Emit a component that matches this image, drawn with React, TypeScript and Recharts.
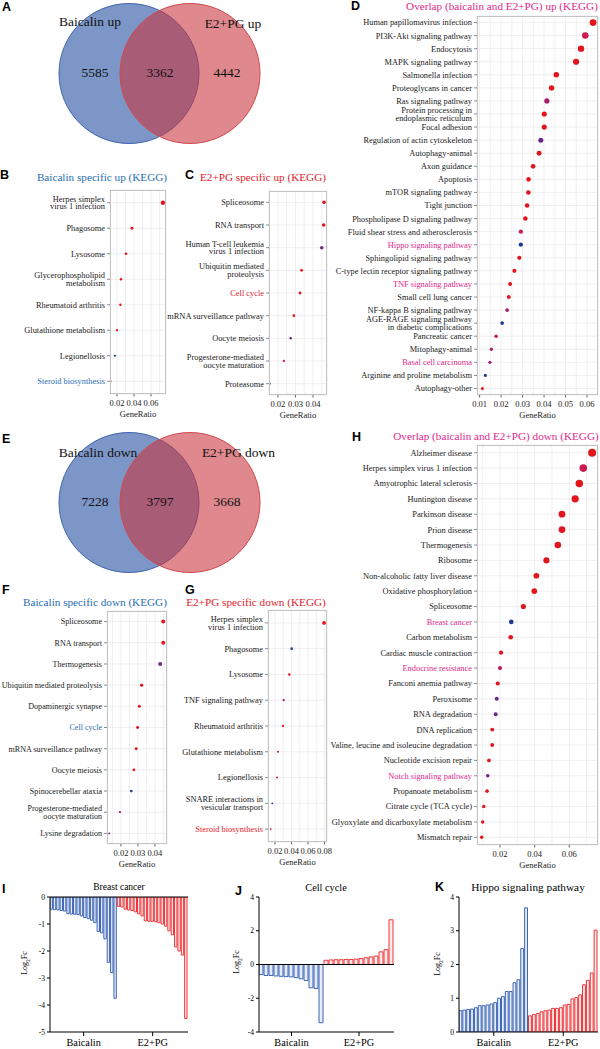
import React from 'react';
import {
    ScatterChart,
    Scatter,
    BarChart,
    Bar,
    Cell,
    XAxis,
    YAxis,
    CartesianGrid,
    ReferenceLine,
} from 'recharts';

const SERIF = '"Liberation Serif", "Times New Roman", serif';
const SANS = '"Liberation Sans", Arial, sans-serif';

// colour scale of p.adjust: red (low) -> navy (high)
const LEVEL_COLORS = ['#e3151c', '#c91b4e', '#a3206f', '#6e2689', '#1d3b90'];
const BLUE = '#3d65b8';
const RED = '#ee3539';
const MAGENTA = '#e0288c';

// ---- Venn counts ----
const vennUpSets = ['Baicalin up', 'E2+PG up'];
const vennUpCounts = [5585, 3362, 4442];
const vennDownSets = ['Baicalin down', 'E2+PG down'];
const vennDownCounts = [7228, 3797, 3668];

// ---- B: Baicalin specific up ----
const bTerms = [
    'Herpes simplex\nvirus 1 infection',
    'Phagosome',
    'Lysosome',
    'Glycerophospholipid\nmetabolism',
    'Rheumatoid arthritis',
    'Glutathione metabolism',
    'Legionellosis',
    'Steroid biosynthesis',
];
const bRatio = [0.074, 0.0376, 0.0306, 0.0247, 0.024, 0.02, 0.0176, 0.0125];
const bLevel = [0, 0, 0, 0, 0, 0, 4, 0];

// ---- C: E2+PG specific up ----
const cTerms = [
    'Spliceosome',
    'RNA transport',
    'Human T-cell leukemia\nvirus 1 infection',
    'Ubiquitin mediated\nproteolysis',
    'Cell cycle',
    'mRNA surveillance pathway',
    'Oocyte meiosis',
    'Progesterone-mediated\noocyte maturation',
    'Proteasome',
];
const cRatio = [0.0463, 0.0461, 0.045, 0.0335, 0.0326, 0.0291, 0.0273, 0.0234, 0.0154];
const cLevel = [0, 0, 3, 0, 0, 0, 3, 1, 4];

// ---- D: overlap up ----
const dTerms = [
    'Human papillomavirus infection',
    'PI3K-Akt signaling pathway',
    'Endocytosis',
    'MAPK signaling pathway',
    'Salmonella infection',
    'Proteoglycans in cancer',
    'Ras signaling pathway',
    'Protein processing in\nendoplasmic reticulum',
    'Focal adhesion',
    'Regulation of actin cytoskeleton',
    'Autophagy-animal',
    'Axon guidance',
    'Apoptosis',
    'mTOR signaling pathway',
    'Tight junction',
    'Phospholipase D signaling pathway',
    'Fluid shear stress and atherosclerosis',
    'Hippo signaling pathway',
    'Sphingolipid signaling pathway',
    'C-type lectin receptor signaling pathway',
    'TNF signaling pathway',
    'Small cell lung cancer',
    'NF-kappa B signaling pathway',
    'AGE-RAGE signaling pathway\nin diabetic complications',
    'Pancreatic cancer',
    'Mitophagy-animal',
    'Basal cell carcinoma',
    'Arginine and proline metabolism',
    'Autophagy-other',
];
const dRatio = [
    0.0628, 0.0592, 0.0572, 0.0549, 0.0457, 0.0435, 0.0413, 0.0401, 0.0401, 0.0385,
    0.0377, 0.0349, 0.0328, 0.0327, 0.0321, 0.0313, 0.0292, 0.0292, 0.0285, 0.0262,
    0.0242, 0.0236, 0.0228, 0.0205, 0.0177, 0.0155, 0.0148, 0.0127, 0.0113,
];
const dLevel = [0, 1, 0, 0, 0, 0, 2, 0, 0, 3, 0, 0, 0, 0, 0, 0, 1, 4, 0, 0, 0, 0, 2, 4, 1, 2, 2, 4, 0];

// ---- F: Baicalin specific down ----
const fTerms = [
    'Spliceosome',
    'RNA transport',
    'Thermogenesis',
    'Ubiquitin mediated proteolysis',
    'Dopaminergic synapse',
    'Cell cycle',
    'mRNA surveillance pathway',
    'Oocyte meiosis',
    'Spinocerebellar ataxia',
    'Progesterone-mediated\noocyte maturation',
    'Lysine degradation',
];
const fRatio = [0.0449, 0.0449, 0.0431, 0.0322, 0.0308, 0.0298, 0.029, 0.0276, 0.0261, 0.0194, 0.0131];
const fLevel = [0, 0, 3, 0, 0, 0, 0, 0, 4, 2, 3];

// ---- G: E2+PG specific down ----
const gTerms = [
    'Herpes simplex\nvirus 1 infection',
    'Phagosome',
    'Lysosome',
    'TNF signaling pathway',
    'Rheumatoid arthritis',
    'Glutathione metabolism',
    'Legionellosis',
    'SNARE interactions in\nvesicular transport',
    'Steroid biosynthesis',
];
const gRatio = [0.0794, 0.0402, 0.0373, 0.0305, 0.0297, 0.0236, 0.0224, 0.0167, 0.0148];
const gLevel = [0, 4, 0, 2, 0, 2, 1, 4, 1];

// ---- H: overlap down ----
const hTerms = [
    'Alzheimer disease',
    'Herpes simplex virus 1 infection',
    'Amyotrophic lateral sclerosis',
    'Huntington disease',
    'Parkinson disease',
    'Prion disease',
    'Thermogenesis',
    'Ribosome',
    'Non-alcoholic fatty liver disease',
    'Oxidative phosphorylation',
    'Spliceosome',
    'Breast cancer',
    'Carbon metabolism',
    'Cardiac muscle contraction',
    'Endocrine resistance',
    'Fanconi anemia pathway',
    'Peroxisome',
    'RNA degradation',
    'DNA replication',
    'Valine, leucine and isoleucine degradation',
    'Nucleotide excision repair',
    'Notch signaling pathway',
    'Propanoate metabolism',
    'Citrate cycle (TCA cycle)',
    'Glyoxylate and dicarboxylate metabolism',
    'Mismatch repair',
];
const hRatio = [
    0.0732, 0.0681, 0.0658, 0.0634, 0.0558, 0.0558, 0.0534, 0.0468, 0.041, 0.0398,
    0.0335, 0.0265, 0.0262, 0.0206, 0.02, 0.0187, 0.0181, 0.0175, 0.0155, 0.0155,
    0.0136, 0.0129, 0.0125, 0.0106, 0.01, 0.0094,
];
const hLevel = [0, 1, 0, 0, 0, 0, 0, 0, 0, 0, 0, 4, 0, 0, 1, 0, 3, 3, 0, 0, 0, 3, 0, 0, 0, 0];

// ---- I/J/K: log2 fold change per gene ----
const iBaicalin = [
    -0.45, -0.47, -0.48, -0.5, -0.52, -0.62, -0.63, -0.64, -0.65, -0.7,
    -0.76, -0.8, -0.86, -0.95, -1.28, -1.33, -1.55, -2.42, -2.8, -3.75,
];
const iE2PG = [
    -0.35, -0.37, -0.45, -0.48, -0.5, -0.55, -0.62, -0.7, -0.88, -0.9, -0.9,
    -0.92, -0.95, -1.0, -1.08, -1.25, -1.4, -1.85, -2.0, -2.15, -4.5,
];
const jBaicalin = [-0.6, -0.65, -0.65, -0.68, -0.7, -0.72, -0.73, -0.78, -0.85, -0.95, -1.38, -1.42, -3.45];
const jE2PG = [0.25, 0.27, 0.28, 0.28, 0.3, 0.3, 0.32, 0.35, 0.4, 0.45, 0.5, 0.75, 0.88, 2.65];
const kBaicalin = [0.63, 0.65, 0.67, 0.68, 0.72, 0.78, 0.78, 0.8, 0.83, 0.87, 1.0, 1.05, 1.2, 1.2, 1.46, 1.55, 2.47, 3.68];
const kE2PG = [0.48, 0.52, 0.55, 0.6, 0.63, 0.65, 0.7, 0.7, 0.72, 0.8, 0.82, 0.98, 1.02, 1.1, 1.4, 1.53, 1.75, 3.02];

// ---- small helpers ----
const Letter = ({ x, y, children }: any) => (
    <div style={{ position: 'absolute', left: x, top: y - 1.6, fontFamily: SANS, fontWeight: 700, fontSize: 12.5, lineHeight: 1 }}>
        {children}
    </div>
);

const Title = ({ x, y, color = '#000', size = 11.2, children }: any) => (
    <div
        style={{
            position: 'absolute', left: x - 150, top: y - 5.5, width: 300, textAlign: 'center',
            fontSize: size, lineHeight: '11px', color, fontFamily: SERIF, whiteSpace: 'nowrap',
        }}
    >
        {children}
    </div>
);

// venn layout
const VENN_CX = [129, 190];
const VENN_CY = 73.5;
const VENN_R = 70;
const VENN_FILL = [{ fill: '#2c56a5', op: 0.62, stroke: '#4064ad' }, { fill: '#c8323a', op: 0.58, stroke: '#cf4a50' }];
const COUNT_X = [95, 160, 227];

const VennPanel = ({ top, sets, counts, setPos }: any) => {
    const circles = VENN_CX.map((cx, i) => ({ x: cx, y: VENN_CY, i }));
    const regions = counts.map((c: number, i: number) => ({ x: COUNT_X[i], y: VENN_CY - 1, text: String(c) }));
    const labels = sets.map((s: string, i: number) => ({ x: setPos[i][0], y: setPos[i][1], text: s }));
    const textShape = (p: any) => (
        <text x={p.cx} y={p.cy} textAnchor="middle" dominantBaseline="central" fontSize={13.5} fill="#111">
            {p.payload.text}
        </text>
    );
    return (
        <div style={{ position: 'absolute', left: 0, top }}>
            <ScatterChart width={300} height={150} margin={{ top: 0, right: 0, bottom: 0, left: 0 }}>
                <XAxis type="number" dataKey="x" domain={[0, 300]} hide />
                <YAxis type="number" dataKey="y" domain={[0, 150]} reversed hide />
                <Scatter
                    data={circles}
                    isAnimationActive={false}
                    shape={(p: any) => {
                        const s = VENN_FILL[p.payload.i];
                        return <circle cx={p.cx} cy={p.cy} r={VENN_R} fill={s.fill} fillOpacity={s.op} stroke={s.stroke} strokeWidth={1} />;
                    }}
                />
                <Scatter data={regions} isAnimationActive={false} shape={textShape} />
                <Scatter data={labels} isAnimationActive={false} shape={textShape} />
            </ScatterChart>
        </div>
    );
};

// dot plot (clusterProfiler style)
const MT = 2;
const MR = 10;
const MB = 5;
const XH = 23;

const XTick = ({ x, y, payload, majors }: any) => {
    if (!majors.includes(payload.value)) return <g />;
    return (
        <g>
            <line x1={x} x2={x} y1={y - 6} y2={y - 3.5} stroke="#666" />
            <text x={x} y={y} dy="0.71em" textAnchor="middle" fontSize={8.5} fill="#1a1a1a">
                {payload.value.toFixed(2)}
            </text>
        </g>
    );
};

const YTick = ({ x, y, payload, highlight, hlColor, size }: any) => {
    const value = String(payload.value);
    const lines = value.split('\n');
    const lh = 7.6;
    const y0 = y - ((lines.length - 1) * lh) / 2;
    const color = highlight.includes(value) ? hlColor : '#1a1a1a';
    return (
        <text x={x} y={y} textAnchor="end" fontSize={size} fill={color}>
            {lines.map((l, i) => (
                <tspan key={i} x={x} y={y0 + i * lh} dy="0.35em">
                    {l}
                </tspan>
            ))}
        </text>
    );
};

const DotPanel = (p: any) => {
    const rows = p.terms.map((t: string, i: number) => ({ term: t, ratio: p.ratios[i], level: p.levels[i] }));
    const lo = Math.min(...p.ratios);
    const hi = Math.max(...p.ratios);
    const rad = (v: number) => p.rMin + ((v - lo) / (hi - lo)) * (p.rMax - p.rMin);
    const ticks = [...p.majors, ...p.minors].sort((a: number, b: number) => a - b);
    const size = p.labelSize || 8.4;
    return (
        <>
            <div style={{ position: 'absolute', left: p.left - p.labelW, top: p.top - MT }}>
                <ScatterChart
                    width={p.labelW + p.plotW + MR}
                    height={MT + p.plotH + XH + MB}
                    margin={{ top: MT, right: MR, bottom: MB, left: 0 }}
                >
                    <CartesianGrid stroke="#ebebeb" strokeWidth={0.8} />
                    <XAxis
                        type="number"
                        dataKey="ratio"
                        domain={p.domain}
                        allowDataOverflow
                        ticks={ticks}
                        interval={0}
                        height={XH}
                        tickSize={4}
                        tickMargin={2}
                        tickLine={false}
                        axisLine={false}
                        tick={(tp: any) => <XTick {...tp} majors={p.majors} />}
                        label={{ value: 'GeneRatio', position: 'insideBottom', offset: 0, fontSize: 8.5, fill: '#1a1a1a' }}
                    />
                    <YAxis
                        type="category"
                        dataKey="term"
                        reversed
                        width={p.labelW}
                        interval={0}
                        tickSize={3}
                        tickMargin={2}
                        axisLine={false}
                        tickLine={{ stroke: '#8c8c8c' }}
                        tick={(tp: any) => <YTick {...tp} highlight={p.highlight} hlColor={p.hlColor} size={size} />}
                    />
                    <Scatter
                        data={rows}
                        isAnimationActive={false}
                        shape={(sp: any) => (
                            <circle cx={sp.cx} cy={sp.cy} r={rad(sp.payload.ratio)} fill={LEVEL_COLORS[sp.payload.level]} />
                        )}
                    />
                </ScatterChart>
            </div>
            <div
                style={{
                    position: 'absolute', left: p.left, top: p.top, width: p.plotW, height: p.plotH,
                    border: '1px solid #c4c4c4', boxSizing: 'border-box', pointerEvents: 'none',
                }}
            />
        </>
    );
};

// log2FC bars
const BarPanel = ({ left, yW, mr, domain, yTicks, blue, red, zero }: any) => {
    const nB = blue.length;
    const nR = red.length;
    const n = nB + nR;
    const rows = [
        ...blue.map((v: number, i: number) => ({ x: i + 0.5, v, g: 0 })),
        ...red.map((v: number, i: number) => ({ x: nB + i + 0.5, v, g: 1 })),
    ];
    const plotW = 200 - yW - mr;
    const bw = plotW / n - 1;
    const groupTicks = [nB / 2, nB + nR / 2];
    return (
        <div style={{ position: 'absolute', left, top: 889 }}>
            <BarChart width={200} height={160} data={rows} margin={{ top: 8, right: mr, bottom: 0, left: 0 }}>
                <XAxis
                    type="number"
                    dataKey="x"
                    domain={[0, n]}
                    allowDataOverflow
                    ticks={groupTicks}
                    interval={0}
                    tickFormatter={(v: number) => (v === groupTicks[0] ? 'Baicalin' : 'E2+PG')}
                    height={17}
                    tickSize={4}
                    tickMargin={3}
                    axisLine={{ stroke: '#000' }}
                    tickLine={{ stroke: '#000' }}
                    tick={{ fontSize: 10.3, fill: '#000' }}
                />
                <YAxis
                    domain={domain}
                    ticks={yTicks}
                    allowDataOverflow
                    interval={0}
                    width={yW}
                    tickSize={3}
                    tickMargin={2}
                    axisLine={{ stroke: '#000' }}
                    tickLine={{ stroke: '#000' }}
                    tick={{ fontSize: 7.5, fill: '#000' }}
                />
                {zero && <ReferenceLine y={0} stroke="#000" />}
                <Bar dataKey="v" barSize={bw} isAnimationActive={false}>
                    {rows.map((r, i) => (
                        <Cell key={i} fill={r.g ? '#fdeaea' : '#e6ecf7'} stroke={r.g ? RED : BLUE} strokeWidth={1} />
                    ))}
                </Bar>
            </BarChart>
        </div>
    );
};

const LogLabel = ({ x, y }: any) => (
    <div
        style={{
            position: 'absolute', left: x - 30, top: y - 6, width: 60, height: 12, lineHeight: '12px',
            textAlign: 'center', transform: 'rotate(-90deg)', fontSize: 8, fontFamily: SERIF,
        }}
    >
        Log<sub style={{ fontSize: 5.5, verticalAlign: 'sub', lineHeight: 0 }}>2</sub>Fc
    </div>
);

export default function App() {
    return (
        <div style={{ position: 'absolute', left: 0, top: 0, width: 600, height: 1049, background: '#fff', fontFamily: SERIF, overflow: 'hidden' }}>
            {/* A */}
            <Letter x={2} y={3}>A</Letter>
            <VennPanel top={0} sets={vennUpSets} counts={vennUpCounts} setPos={[[90, 21.7], [233, 23.3]]} />

            {/* B */}
            <Letter x={0} y={171}>B</Letter>
            <Title x={102} y={177} color="#1f6db3">Baicalin specific up (KEGG)</Title>
            <DotPanel
                left={110} top={190} plotW={56} plotH={204} labelW={92}
                terms={bTerms} ratios={bRatio} levels={bLevel}
                domain={[0.0118, 0.0776]} majors={[0.02, 0.04, 0.06]} minors={[0.03, 0.05, 0.07]}
                rMin={1.0} rMax={2.2} highlight={['Steroid biosynthesis']} hlColor="#1f6db3"
            />

            {/* C */}
            <Letter x={185} y={171}>C</Letter>
            <Title x={263} y={177} color="#e3202a">E2+PG specific up (KEGG)</Title>
            <DotPanel
                left={269} top={190.5} plotW={58} plotH={204} labelW={104}
                terms={cTerms} ratios={cRatio} levels={cLevel}
                domain={[0.0149, 0.048]} majors={[0.02, 0.03, 0.04]} minors={[0.025, 0.035, 0.045]}
                rMin={0.9} rMax={1.8} highlight={['Cell cycle']} hlColor="#e3202a"
            />

            {/* D */}
            <Letter x={351} y={2}>D</Letter>
            <Title x={502} y={6} color={MAGENTA}>Overlap (baicalin and E2+PG) up (KEGG)</Title>
            <DotPanel
                left={477} top={16} plotW={121} plotH={379} labelW={148}
                terms={dTerms} ratios={dRatio} levels={dLevel}
                domain={[0.0088, 0.0651]} majors={[0.01, 0.02, 0.03, 0.04, 0.05, 0.06]}
                minors={[0.015, 0.025, 0.035, 0.045, 0.055]}
                rMin={1.5} rMax={3.4}
                highlight={['Hippo signaling pathway', 'TNF signaling pathway', 'Basal cell carcinoma']} hlColor={MAGENTA}
            />

            {/* E */}
            <Letter x={2} y={435}>E</Letter>
            <VennPanel top={429} sets={vennDownSets} counts={vennDownCounts} setPos={[[98, 23.7], [238.5, 23.7]]} />

            {/* F */}
            <Letter x={2} y={586}>F</Letter>
            <Title x={95} y={602.5} color="#1f6db3">Baicalin specific down (KEGG)</Title>
            <DotPanel
                left={107} top={611} plotW={60} plotH={233} labelW={107} labelSize={8.1}
                terms={fTerms} ratios={fRatio} levels={fLevel}
                domain={[0.0118, 0.0471]} majors={[0.02, 0.03, 0.04]} minors={[0.015, 0.025, 0.035, 0.045]}
                rMin={0.9} rMax={2.0} highlight={['Cell cycle']} hlColor="#1f6db3"
            />

            {/* G */}
            <Letter x={185} y={586}>G</Letter>
            <Title x={256} y={602.5} color="#e3202a">E2+PG specific down (KEGG)</Title>
            <DotPanel
                left={268} top={610} plotW={59} plotH={232} labelW={90}
                terms={gTerms} ratios={gRatio} levels={gLevel}
                domain={[0.0115, 0.083]} majors={[0.02, 0.04, 0.06, 0.08]} minors={[0.03, 0.05, 0.07]}
                rMin={0.9} rMax={1.9} highlight={['Steroid biosynthesis']} hlColor="#e3202a"
            />

            {/* H */}
            <Letter x={352} y={433}>H</Letter>
            <Title x={496} y={436} color={MAGENTA}>Overlap (baicalin and E2+PG) down (KEGG)</Title>
            <DotPanel
                left={477} top={445} plotW={121} plotH={400} labelW={150}
                terms={hTerms} ratios={hRatio} levels={hLevel}
                domain={[0.0067, 0.0766]} majors={[0.02, 0.04, 0.06]} minors={[0.01, 0.03, 0.05, 0.07]}
                rMin={1.7} rMax={4.0}
                highlight={['Breast cancer', 'Endocrine resistance', 'Notch signaling pathway']} hlColor={MAGENTA}
            />

            {/* I */}
            <Letter x={2} y={885}>I</Letter>
            <Title x={119} y={887} size={9.5}>Breast cancer</Title>
            <BarPanel left={0} yW={50} mr={12} domain={[-5, 0]} yTicks={[-5, -4, -3, -2, -1, 0]} blue={iBaicalin} red={iE2PG} zero />
            <LogLabel x={25} y={963} />

            {/* J */}
            <Letter x={235} y={887}>J</Letter>
            <Title x={326} y={887} size={10.3}>Cell cycle</Title>
            <BarPanel left={200} yW={59} mr={6} domain={[-4, 4]} yTicks={[-4, -2, 0, 2, 4]} blue={jBaicalin} red={jE2PG} zero />
            <LogLabel x={237} y={962} />

            {/* K */}
            <Letter x={435} y={883}>K</Letter>
            <Title x={528} y={887} size={11.3}>Hippo signaling pathway</Title>
            <BarPanel left={400} yW={59} mr={2} domain={[0, 4]} yTicks={[0, 1, 2, 3, 4]} blue={kBaicalin} red={kE2PG} />
            <LogLabel x={438} y={964} />
        </div>
    );
}
